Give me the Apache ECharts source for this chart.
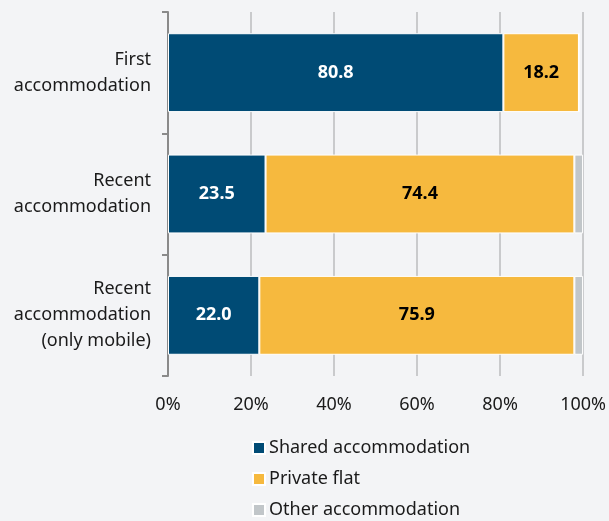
<!DOCTYPE html>
<html>
<head>
<meta charset="utf-8">
<script src="https://cdn.jsdelivr.net/npm/echarts@6/dist/echarts.min.js"></script>
<style>
  html, body { margin: 0; padding: 0; background: #f3f4f6; }
  #chart { width: 609px; height: 521px; }
</style>
</head>
<body>
<div id="chart"></div>
<script>
// categories, top to bottom
const categories = ['First\naccommodation', 'Recent\naccommodation', 'Recent\naccommodation\n(only mobile)'];
// shares in percent
const shared = [80.8, 23.5, 22.0];
const privateFlat = [18.2, 74.4, 75.9];
const other = [0, 2.1, 2.1];
const xTicks = [0, 20, 40, 60, 80, 100];

const font = 'Noto Sans';

const myChart = echarts.init(document.getElementById('chart'));

const option = {
  backgroundColor: '#f3f4f6',
  textStyle: { fontFamily: font },
  grid: { left: 168, right: 23, top: 12, bottom: 145 },
  legend: {
    orient: 'vertical',
    left: 252,
    top: 438,
    padding: 0,
    itemWidth: 12,
    itemHeight: 12,
    itemGap: 11,
    icon: 'rect',
    textStyle: { fontSize: 18, lineHeight: 20, color: '#1a1a1a', fontFamily: font, padding: [0, 0, 0, -1] },
    data: ['Shared accommodation', 'Private flat', 'Other accommodation']
  },
  xAxis: {
    type: 'value',
    min: 0,
    max: 100,
    interval: 20,
    axisLine: { show: false },
    axisTick: { show: false },
    axisLabel: {
      color: '#1a1a1a',
      fontSize: 18,
      margin: 20,
      formatter: v => xTicks.includes(v) ? v + '%' : ''
    },
    splitLine: { show: true, lineStyle: { color: '#c9cacc', width: 2 } }
  },
  yAxis: {
    type: 'category',
    inverse: true,
    data: categories,
    axisLine: { show: true, lineStyle: { color: '#8a8a8a', width: 2 } },
    axisTick: { show: true, length: 6, lineStyle: { color: '#8a8a8a', width: 2 } },
    axisLabel: {
      color: '#1a1a1a',
      fontSize: 18,
      lineHeight: 26,
      margin: 17,
      align: 'right'
    }
  },
  series: [
    {
      name: 'Shared accommodation',
      type: 'bar',
      stack: 'total',
      barWidth: '65%',
      data: shared,
      itemStyle: { color: '#004b75', borderColor: '#ffffff', borderWidth: 1 },
      label: {
        show: true,
        position: 'inside',
        color: '#ffffff',
        fontWeight: 'bold',
        fontSize: 18,
        formatter: p => p.value.toFixed(1)
      }
    },
    {
      name: 'Private flat',
      type: 'bar',
      stack: 'total',
      data: privateFlat,
      itemStyle: { color: '#f6b93e', borderColor: '#ffffff', borderWidth: 1 },
      label: {
        show: true,
        position: 'inside',
        color: '#000000',
        fontWeight: 'bold',
        fontSize: 18,
        formatter: p => p.value.toFixed(1)
      }
    },
    {
      name: 'Other accommodation',
      type: 'bar',
      stack: 'total',
      data: other,
      itemStyle: { color: '#c1c6c9', borderColor: '#ffffff', borderWidth: 1 },
      label: { show: false }
    }
  ]
};

myChart.setOption(option);
</script>
</body>
</html>
